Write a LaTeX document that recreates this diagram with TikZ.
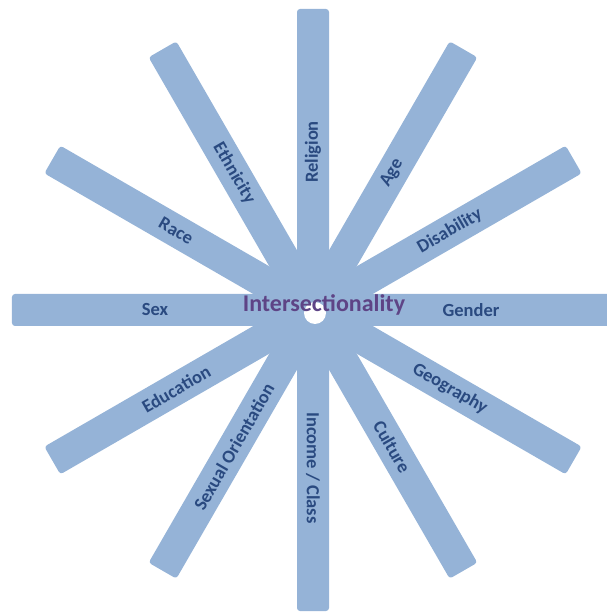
\documentclass[tikz,border=0pt]{standalone}
\usepackage{fontspec}
\setmainfont{Carlito}
\usepackage{tikz}
\usetikzlibrary{positioning}

\definecolor{spokeblue}{HTML}{95B3D7}
\definecolor{labelblue}{HTML}{2A4A80}
\definecolor{hubpurple}{HTML}{5E4486}

\begin{document}
\begin{tikzpicture}[x=1pt,y=1pt]
  \useasboundingbox (-313,-302) rectangle (293,310);
  \tikzset{spoke/.style={fill=spokeblue, rounded corners=3pt},
    factor/.style={text=labelblue, font=\bfseries\fontsize{18.5}{20}\selectfont, inner sep=1pt}}
  % spokes and their labels
  \foreach \ang/\rot/\nm/\txt in {0/0/gender/Gender, 30/30/disab/Disability, 60/60/age/Age,
      90/90/relig/Religion, 120/-60/ethn/Ethnicity, 150/-30/race/Race, 180/0/sex/Sex,
      210/30/educ/Education, 240/60/sexor/Sexual Orientation, 270/-90/income/{Income / Class},
      300/-60/cult/Culture, 330/-30/geo/Geography} {
    \coordinate (tip\nm) at (\ang:301);
    \fill[spoke, rotate=\ang] (0,-16) rectangle (301,16);
    \node[factor, rotate=\rot] (lab\nm) at (\ang:158) {\txt};
  }
  \node[circle, fill=white, minimum size=22pt, inner sep=0pt] (hub) at (2,-3) {};
  \node[text=hubpurple, font=\bfseries\fontsize{24}{28}\selectfont] (title) at (11,5) {Intersectionality};
\end{tikzpicture}
\end{document}
